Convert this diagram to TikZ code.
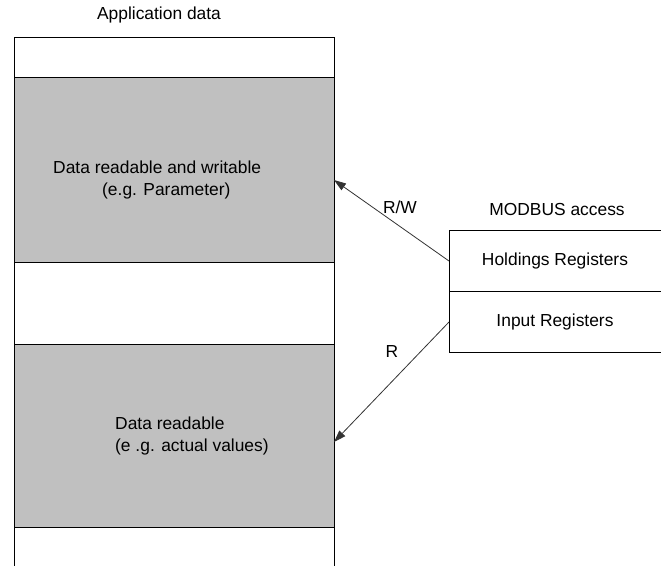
\documentclass[tikz,border=0pt]{standalone}
\usepackage{fontspec}
\setmainfont{Liberation Sans}
\usetikzlibrary{arrows.meta,positioning}
\definecolor{blockgray}{RGB}{192,192,192}

\begin{document}
\begin{tikzpicture}[
  x=1pt, y=-1pt,
  font=\fontsize{17.4}{21.5}\selectfont,
  block/.style={rectangle, draw, line width=1pt, minimum width=320pt, inner sep=0pt, outer sep=0pt, fill=white},
  shaded/.style={block, fill=blockgray},
  reg/.style={rectangle, minimum width=212pt, minimum height=61pt, inner sep=0pt, outer sep=0pt},
  lbl/.style={inner sep=0pt},
  >={Triangle[length=12pt,width=8pt]}
]
\useasboundingbox (0,0) rectangle (661,566);
% application data column
\node[block, minimum height=40pt] (top) at (174,57) {};
\node[shaded, minimum height=185pt, below=0pt of top] (rw) {};
\node[block, minimum height=82pt, below=0pt of rw] (mid) {};
\node[shaded, minimum height=183pt, below=0pt of mid] (ro) {};
\node[reg, minimum width=320pt, minimum height=39pt, below=0pt of ro] (bot) {};
\draw[line width=1pt] (bot.north west) -- (bot.south west);
\draw[line width=1pt] (bot.north east) -- (bot.south east);
\node[lbl] (apptitle) at (159,15) {Application data};
\node[lbl, align=left, anchor=west] (rwtext) at (53,180) {Data readable and writable\\\hspace*{49pt}(e.g. Parameter)};
\node[lbl, align=left, anchor=west] (rotext) at (115,436) {Data readable\\(e .g. actual values)};
% modbus registers
\node[reg] (hold) at (555,261) {Holdings Registers};
\node[reg, below=0pt of hold] (inp) {Input Registers};
\draw[line width=1pt] (hold.north east) -- (hold.north west) -- (inp.south west) -- (inp.south east);
\draw[line width=1pt] (hold.south west) -- (hold.south east);
\node[lbl] (modbus) at (557,210) {MODBUS access};
% access arrows
\draw[->, line width=0.8pt, black!80] (hold.west) -- ([yshift=-10.5pt]rw.east);
\draw[->, line width=0.8pt, black!80] (inp.west) -- ([yshift=-6.5pt]ro.east);
\node[lbl] (rwlbl) at (400,207) {R/W};
\node[lbl] (rlbl) at (392,352) {R};
\end{tikzpicture}
\end{document}
